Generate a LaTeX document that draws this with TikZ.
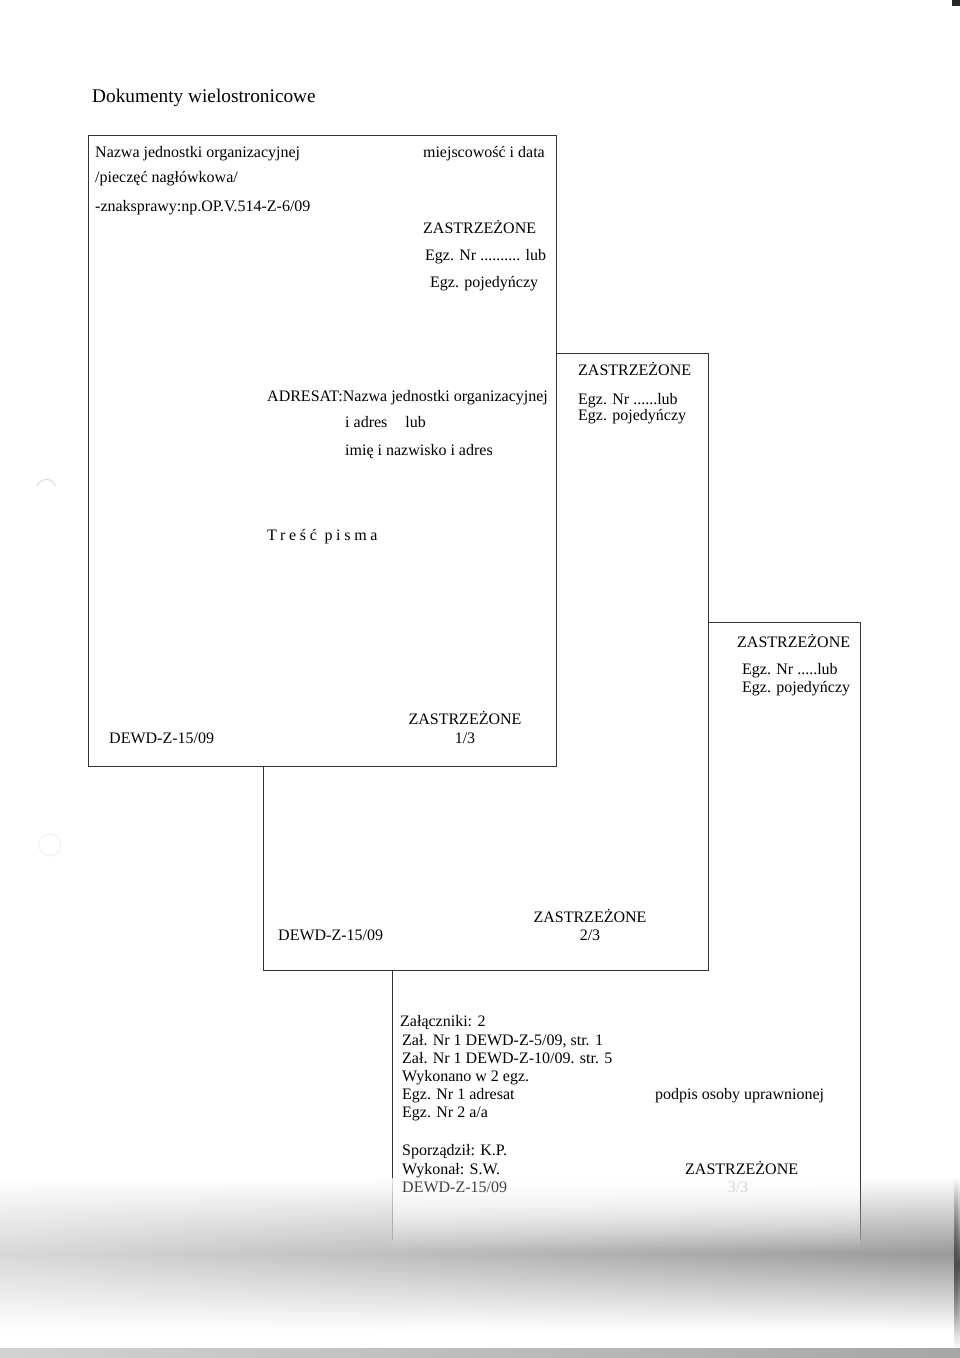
\documentclass[tikz,border=0pt]{standalone}
\usepackage{fontspec}
\setmainfont{Liberation Serif}
\usetikzlibrary{fadings}
\tikzfading[name=bandfade, top color=transparent!100, bottom color=transparent!100, middle color=transparent!0]
\tikzfading[name=downfade, top color=transparent!0, bottom color=transparent!100]
\begin{document}
\begin{tikzpicture}[x=1pt,y=-1pt,
  txt/.style={inner sep=0pt, anchor=base west, font=\fontsize{16}{19}\selectfont},
  txtc/.style={inner sep=0pt, anchor=base, font=\fontsize{16}{19}\selectfont},
  txte/.style={inner sep=0pt, anchor=base east, font=\fontsize{16}{19}\selectfont},
  frame/.style={draw=black!80, line width=0.9pt, fill=white},
  edge/.style={draw=black!80, line width=0.9pt}]
\useasboundingbox (0,0) rectangle (960,1358);
\fill[white] (0,0) rectangle (960,1358);

% scan artefacts
\draw[gray!30, line width=1pt] (37,486) arc[start angle=200, end angle=340, radius=10];
\draw[gray!12, line width=1pt] (50,845) circle[radius=11];
\fill[black!85] (952,0) rectangle (960,6);

% title
\node[inner sep=0pt, anchor=base west, font=\fontsize{19.3}{23}\selectfont] (title) at (92,102) {Dokumenty wielostronicowe};

% page 3 (back)
\coordinate (p3a) at (392,1240);
\coordinate (p3b) at (392,622);
\coordinate (p3c) at (860,622);
\coordinate (p3d) at (860,1240);
\fill[white] (p3a) -- (p3b) -- (p3c) -- (p3d) -- cycle;
\draw[edge] (p3a) -- (p3b) -- (p3c) -- (p3d);

% page 2
\node[frame, minimum width=445pt, minimum height=617pt, anchor=north west, inner sep=0pt] (page2) at (263,353) {};
% page 1
\node[frame, minimum width=468pt, minimum height=631pt, anchor=north west, inner sep=0pt] (page1) at (88,135) {};

% scanner shadow band
\shade[left color=gray!30, right color=gray!80, path fading=bandfade]
  (0,1178) rectangle (960,1330);
\fill[white, path fading=downfade, fill opacity=0.85] (392,1178) rectangle (860,1250);
\shade[left color=gray!35, right color=gray!70] (0,1348) rectangle (960,1358);
\fill[black!70, path fading=bandfade] (954,1178) rectangle (960,1350);

% page 1 texts
\node[txt] (n1) at (95,157) {Nazwa jednostki organizacyjnej};
\node[txte] (n2) at (545,157) {miejscowość i data};
\node[txt] (n3) at (95,182) {/pieczęć nagłówkowa/};
\node[txt] (n4) at (95,211) {-znaksprawy:np.OP.V.514-Z-6/09};
\node[txt] (n5) at (423,233) {ZASTRZEŻONE};
\node[txt] (n6) at (425,260) {Egz. Nr .......... lub};
\node[txt] (n7) at (430,287) {Egz. pojedyńczy};
\node[txt] (n8) at (267,401) {ADRESAT:Nazwa jednostki organizacyjnej};
\node[txt] (n9) at (345,427) {i adres\hspace{18pt}lub};
\node[txt] (n10) at (345,455) {imię i nazwisko i adres};
\node[txt] (n11) at (267,540) {\addfontfeature{LetterSpace=23}Treść pisma};
\node[txt] (n12) at (109,743) {DEWD-Z-15/09};
\node[txtc] (n13) at (465,724) {ZASTRZEŻONE};
\node[txtc] (n14) at (465,743) {1/3};

% page 2 texts
\node[txt] (m1) at (578,375) {ZASTRZEŻONE};
\node[txt] (m2) at (578,404) {Egz. Nr ......lub};
\node[txt] (m3) at (578,420) {Egz. pojedyńczy};
\node[txt] (m4) at (278,940) {DEWD-Z-15/09};
\node[txtc] (m5) at (590,922) {ZASTRZEŻONE};
\node[txtc] (m6) at (590,940) {2/3};

% page 3 texts
\node[txt] (k1) at (737,647) {ZASTRZEŻONE};
\node[txt] (k2) at (742,674) {Egz. Nr .....lub};
\node[txt] (k3) at (742,692) {Egz. pojedyńczy};
\node[txt] (k4) at (400,1026) {Załączniki: 2};
\node[txt] (k5) at (402,1045) {Zał. Nr 1 DEWD-Z-5/09, str. 1};
\node[txt] (k6) at (402,1063) {Zał. Nr 1 DEWD-Z-10/09. str. 5};
\node[txt] (k7) at (402,1081) {Wykonano w 2 egz.};
\node[txt] (k8) at (402,1099) {Egz. Nr 1 adresat};
\node[txt] (k9) at (402,1117) {Egz. Nr 2 a/a};
\node[txt] (k10) at (402,1155) {Sporządził: K.P.};
\node[txt] (k11) at (402,1174) {Wykonał: S.W.};
\node[txt, text=black!75] (k12) at (402,1192) {DEWD-Z-15/09};
\node[txt] (k13) at (655,1099) {podpis osoby uprawnionej};
\node[txt] (k14) at (685,1174) {ZASTRZEŻONE};
\node[txtc, text=gray!35] (k15) at (738,1192) {3/3};
\end{tikzpicture}
\end{document}
